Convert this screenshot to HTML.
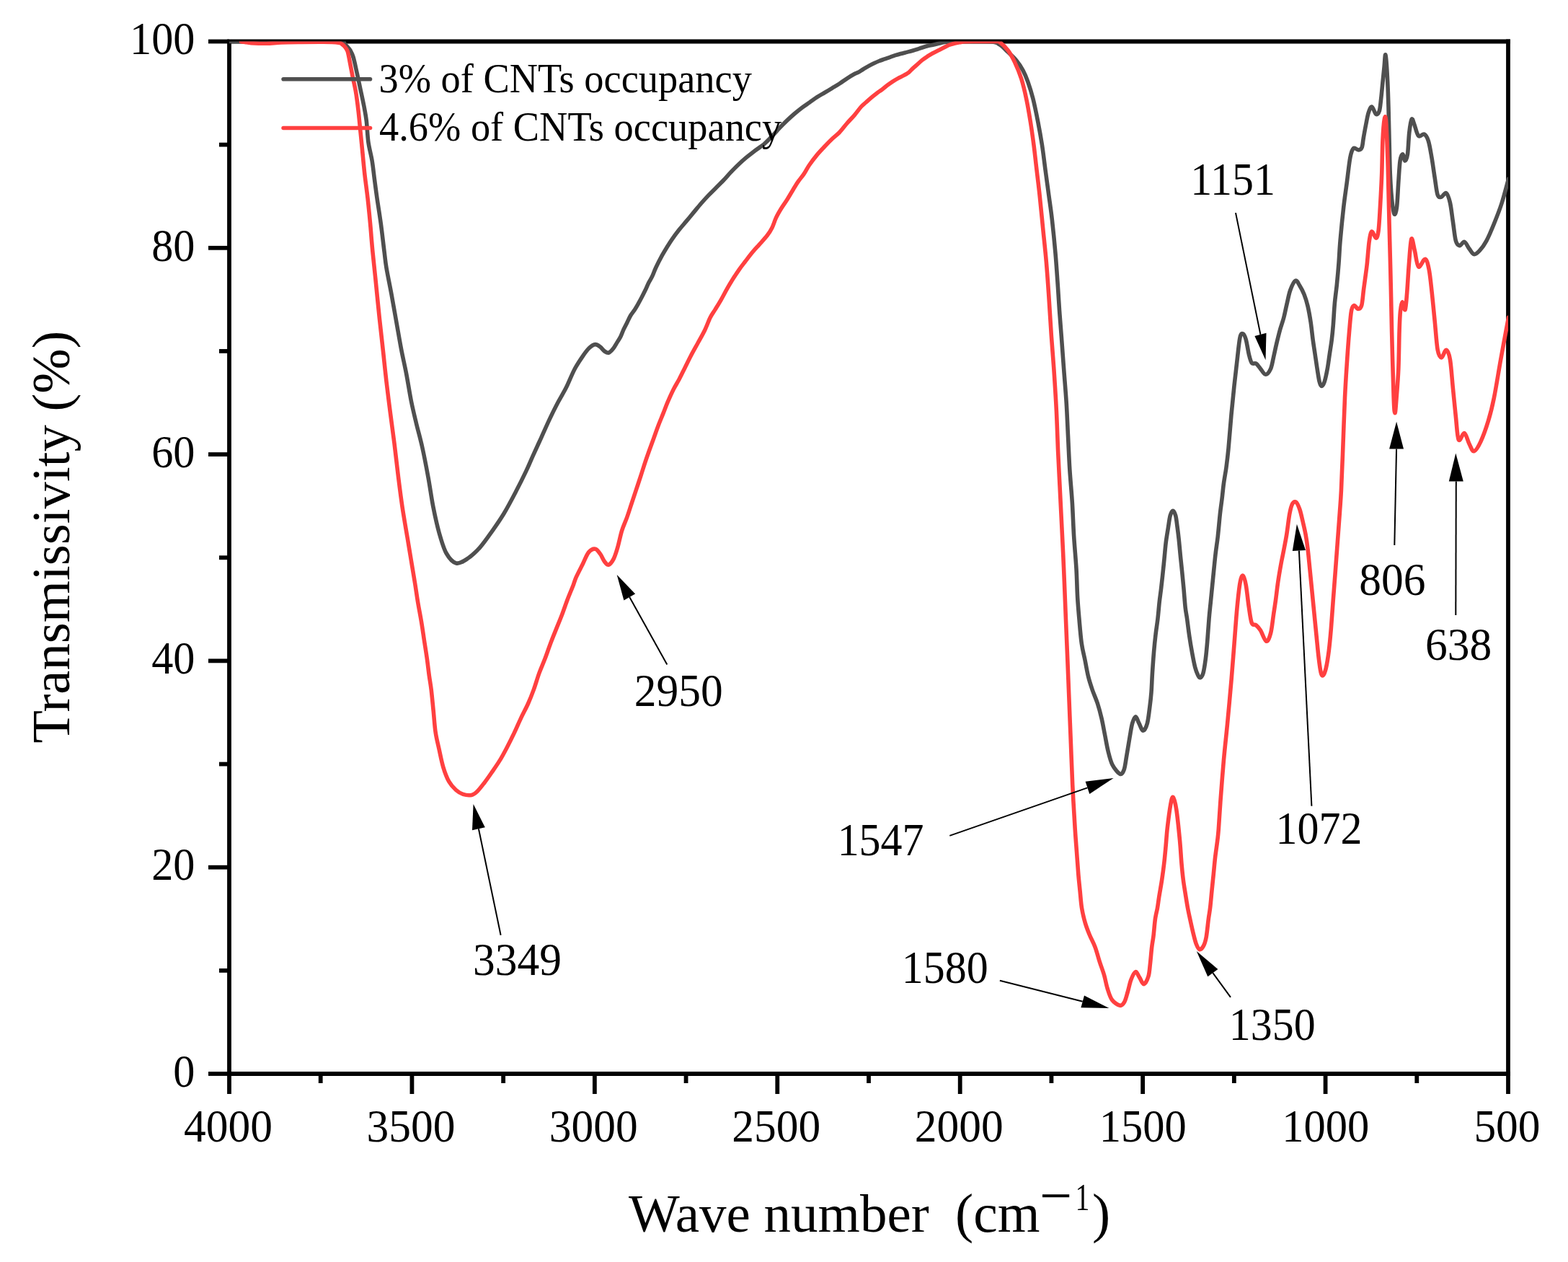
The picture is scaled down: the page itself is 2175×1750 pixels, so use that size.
<!DOCTYPE html>
<html><head><meta charset="utf-8"><title>FTIR spectra</title>
<style>html,body{margin:0;padding:0;background:#fff;}body{width:2175px;height:1750px;overflow:hidden;}svg{display:block;}text{font-family:'Liberation Serif', 'Times New Roman', serif;fill:#000;}</style>
</head><body>
<svg width="2175" height="1750" viewBox="0 0 2175 1750">
<rect width="2175" height="1750" fill="#fff"/>
<g stroke="#000" stroke-width="5.8" fill="none" stroke-linecap="butt">
<path d="M315.1,57.5H2094.9"/>
<path d="M315.1,1489H2094.9"/>
<path d="M318,57.5V1489"/>
<path d="M2092,54.6V1491.9"/>
<path d="M289,1489H318"/>
<path d="M304,1345.85H318"/>
<path d="M289,1202.7H318"/>
<path d="M304,1059.55H318"/>
<path d="M289,916.4H318"/>
<path d="M304,773.25H318"/>
<path d="M289,630.1H318"/>
<path d="M304,486.95H318"/>
<path d="M289,343.8H318"/>
<path d="M304,200.65H318"/>
<path d="M289,57.5H318"/>
<path d="M2092,1489V1517"/>
<path d="M1965.29,1489V1502"/>
<path d="M1838.57,1489V1517"/>
<path d="M1711.86,1489V1502"/>
<path d="M1585.14,1489V1517"/>
<path d="M1458.43,1489V1502"/>
<path d="M1331.71,1489V1517"/>
<path d="M1205,1489V1502"/>
<path d="M1078.29,1489V1517"/>
<path d="M951.57,1489V1502"/>
<path d="M824.86,1489V1517"/>
<path d="M698.14,1489V1502"/>
<path d="M571.43,1489V1517"/>
<path d="M444.71,1489V1502"/>
<path d="M318,1489V1517"/>
</g>
<clipPath id="pa"><rect x="318" y="57.5" width="1774" height="1431.5"/></clipPath>
<g clip-path="url(#pa)">
<path d="M314,57.5C328.33,57.5 374,57.5 400,57.5C426,57.5 457.33,57.25 470,57.5C482.67,57.75 474.17,57.92 476,59C477.83,60.08 479.33,62.17 481,64C482.67,65.83 484.48,67.43 486,70C487.52,72.57 488.55,74.08 490.1,79.4C491.65,84.72 493.7,94.7 495.3,101.9C496.9,109.1 498.12,115.12 499.7,122.6C501.28,130.08 503.37,139.3 504.8,146.8C506.23,154.3 507.28,159.23 508.3,167.6C509.32,175.97 509.6,187.78 510.9,197C512.2,206.22 514.67,214.25 516.1,222.9C517.53,231.55 518.35,240.25 519.5,248.9C520.65,257.55 521.55,264.72 523,274.8C524.45,284.88 526.5,296.87 528.2,309.4C529.9,321.93 531.9,339.65 533.2,350C534.5,360.35 534.38,361.92 536,371.5C537.62,381.08 540.6,395.05 542.9,407.5C545.2,419.95 547.5,433.3 549.8,446.2C552.1,459.1 554.4,472.92 556.7,484.9C559,496.88 561.3,506.12 563.6,518.1C565.9,530.08 568.18,545.27 570.5,556.8C572.82,568.33 574.95,576.68 577.5,587.3C580.05,597.92 583.05,608.05 585.8,620.5C588.55,632.95 591.47,648.18 594,662C596.53,675.82 598.45,690.5 601,703.4C603.55,716.3 606.3,728.8 609.3,739.4C612.3,750 615.08,760.08 619,767C622.92,773.92 627.73,779.73 632.8,780.9C637.87,782.07 643.87,777.68 649.4,774C654.93,770.32 660.47,765.03 666,758.8C671.53,752.57 677.07,744.45 682.6,736.6C688.13,728.75 693.67,720.92 699.2,711.7C704.73,702.48 710.73,690.98 715.8,681.3C720.87,671.62 725.7,661.8 729.6,653.6C733.5,645.4 735.67,639.9 739.2,632.1C742.73,624.3 746.95,615.25 750.8,606.8C754.65,598.35 758.47,589.48 762.3,581.4C766.13,573.32 769.97,565.6 773.8,558.3C777.63,551 781.45,545.28 785.3,537.6C789.15,529.92 793.05,519.5 796.9,512.2C800.75,504.9 804.95,498.78 808.4,493.8C811.85,488.82 814.72,485 817.6,482.3C820.48,479.6 823.2,477.8 825.7,477.6C828.2,477.4 830.48,479.55 832.6,481.1C834.72,482.65 836.48,485.55 838.4,486.9C840.32,488.25 842.08,489.77 844.1,489.2C846.12,488.63 848.5,485.93 850.5,483.5C852.5,481.07 854.35,477.43 856.1,474.6C857.85,471.77 859.52,469.45 861,466.5C862.48,463.55 863.52,460.12 865,456.9C866.48,453.68 868.28,450.43 869.9,447.2C871.52,443.97 872.95,440.47 874.7,437.5C876.45,434.53 878.65,432.1 880.4,429.4C882.15,426.7 883.6,424.12 885.2,421.3C886.8,418.48 888.38,415.58 890,412.5C891.62,409.42 893.28,406.17 894.9,402.8C896.52,399.43 898.08,395.53 899.7,392.3C901.32,389.07 902.92,386.95 904.6,383.4C906.28,379.85 907.63,375.63 909.8,371C911.97,366.37 915.08,360.23 917.6,355.6C920.12,350.97 922.47,347.17 924.9,343.2C927.33,339.23 929.43,335.78 932.2,331.8C934.97,327.82 938.22,323.45 941.5,319.3C944.78,315.15 948.43,311.05 951.9,306.9C955.37,302.75 958.85,298.55 962.3,294.4C965.75,290.25 969.15,285.97 972.6,282C976.05,278.03 979.53,274.23 983,270.6C986.47,266.97 989.93,263.67 993.4,260.2C996.87,256.73 1000.35,253.43 1003.8,249.8C1007.25,246.17 1010.65,242.03 1014.1,238.4C1017.55,234.77 1021.03,231.28 1024.5,228C1027.97,224.72 1031.43,221.63 1034.9,218.7C1038.37,215.77 1041.85,213 1045.3,210.4C1048.75,207.8 1053.02,205 1055.6,203.1C1058.18,201.2 1058.22,201.4 1060.8,199C1063.38,196.6 1067.65,192.32 1071.1,188.7C1074.55,185.08 1078.03,180.93 1081.5,177.3C1084.97,173.67 1088.43,170.2 1091.9,166.9C1095.37,163.6 1098.85,160.45 1102.3,157.5C1105.75,154.55 1109.15,151.78 1112.6,149.2C1116.05,146.62 1119.53,144.42 1123,142C1126.47,139.58 1129.93,136.95 1133.4,134.7C1136.87,132.45 1140.35,130.57 1143.8,128.5C1147.25,126.43 1150.65,124.38 1154.1,122.3C1157.55,120.22 1161.03,118.25 1164.5,116C1167.97,113.75 1171.43,111.05 1174.9,108.8C1178.37,106.55 1182.78,103.88 1185.3,102.5C1187.82,101.12 1187.98,101.58 1190,100.5C1192.02,99.42 1194.93,97.48 1197.4,96C1199.87,94.52 1202.32,92.97 1204.8,91.6C1207.28,90.23 1209.82,88.98 1212.3,87.8C1214.78,86.62 1217.23,85.48 1219.7,84.5C1222.17,83.52 1224.63,82.77 1227.1,81.9C1229.57,81.03 1232.03,80.17 1234.5,79.3C1236.97,78.43 1239.42,77.5 1241.9,76.7C1244.38,75.9 1246.92,75.18 1249.4,74.5C1251.88,73.82 1254.33,73.22 1256.8,72.6C1259.27,71.98 1261.73,71.48 1264.2,70.8C1266.67,70.12 1269.12,69.3 1271.6,68.5C1274.08,67.7 1276.62,66.78 1279.1,66C1281.58,65.22 1284.03,64.43 1286.5,63.8C1288.97,63.17 1291.43,62.75 1293.9,62.2C1296.37,61.65 1298.62,61.1 1301.3,60.5C1303.98,59.9 1306.88,59.1 1310,58.6C1313.12,58.1 1316.43,57.68 1320,57.5C1323.57,57.32 1322.2,57.42 1331.4,57.5C1340.6,57.58 1365.98,57.27 1375.2,58C1384.42,58.73 1382.85,59.52 1386.7,61.9C1390.55,64.28 1394.45,68.65 1398.3,72.3C1402.15,75.95 1406.35,79.58 1409.8,83.8C1413.25,88.02 1416.32,92.6 1419,97.6C1421.68,102.6 1423.58,107.27 1425.9,113.8C1428.22,120.33 1430.58,127.58 1432.9,136.8C1435.22,146.02 1437.7,158.33 1439.8,169.1C1441.9,179.87 1443.78,190.25 1445.5,201.4C1447.22,212.55 1448.55,224.47 1450.1,236C1451.65,247.53 1453.25,259.07 1454.8,270.6C1456.35,282.13 1457.87,291.75 1459.4,305.2C1460.93,318.65 1462.67,335.93 1464,351.3C1465.33,366.67 1466.48,384.28 1467.4,397.4C1468.32,410.52 1468.68,418.55 1469.5,430C1470.32,441.45 1471.27,452.4 1472.3,466.1C1473.33,479.8 1474.55,496.83 1475.7,512.2C1476.85,527.57 1478.23,542.92 1479.2,558.3C1480.17,573.68 1480.73,589.12 1481.5,604.5C1482.27,619.88 1482.83,635.23 1483.8,650.6C1484.77,665.97 1486.33,681.33 1487.3,696.7C1488.27,712.07 1488.65,727.43 1489.6,742.8C1490.55,758.17 1492.17,774.75 1493,788.9C1493.83,803.05 1493.95,816.25 1494.6,827.7C1495.25,839.15 1495.95,846.85 1496.9,857.6C1497.85,868.35 1498.95,882.58 1500.3,892.2C1501.65,901.82 1503.45,907.62 1505,915.3C1506.55,922.98 1507.88,931.38 1509.6,938.3C1511.32,945.22 1513.18,950.65 1515.3,956.8C1517.42,962.95 1520.18,968.67 1522.3,975.2C1524.42,981.73 1526.28,988.7 1528,996C1529.72,1003.3 1531.07,1011.32 1532.6,1019C1534.13,1026.68 1535.47,1035.18 1537.2,1042.1C1538.93,1049.02 1540.3,1055.32 1543,1060.5C1545.7,1065.68 1550.72,1072.03 1553.4,1073.2C1556.08,1074.37 1557.57,1071.53 1559.1,1067.5C1560.63,1063.47 1561.25,1056.68 1562.6,1049C1563.95,1041.32 1565.85,1029.08 1567.2,1021.4C1568.55,1013.72 1569.35,1007.52 1570.7,1002.9C1572.05,998.28 1573.77,993.7 1575.3,993.7C1576.83,993.7 1578.17,999.63 1579.9,1002.9C1581.63,1006.17 1583.78,1013.3 1585.7,1013.3C1587.62,1013.3 1589.87,1008.48 1591.4,1002.9C1592.93,997.32 1593.97,986.92 1594.9,979.8C1595.83,972.68 1596.4,968.08 1597,960.2C1597.6,952.32 1597.88,942.12 1598.5,932.5C1599.12,922.88 1599.95,911.25 1600.7,902.5C1601.45,893.75 1602.12,887.5 1603,880C1603.88,872.5 1605.13,865 1606,857.5C1606.87,850 1607.45,841.75 1608.2,835C1608.95,828.25 1609.75,823.25 1610.5,817C1611.25,810.75 1611.95,804.5 1612.7,797.5C1613.45,790.5 1614.25,782.5 1615,775C1615.75,767.5 1616.33,759.5 1617.2,752.5C1618.07,745.5 1619.2,739.25 1620.2,733C1621.2,726.75 1622.07,719.13 1623.2,715C1624.33,710.87 1625.75,708.2 1627,708.2C1628.25,708.2 1629.7,711.37 1630.7,715C1631.7,718.63 1632.25,724.5 1633,730C1633.75,735.5 1634.45,741 1635.2,748C1635.95,755 1636.75,764.5 1637.5,772C1638.25,779.5 1638.95,785.5 1639.7,793C1640.45,800.5 1641.25,808.75 1642,817C1642.75,825.25 1643.45,835.77 1644.2,842.5C1644.95,849.23 1645.58,850.88 1646.5,857.4C1647.42,863.92 1648.5,873.53 1649.7,881.6C1650.9,889.67 1652.37,898.53 1653.7,905.8C1655.03,913.07 1656.35,920.08 1657.7,925.2C1659.05,930.32 1660.58,934.08 1661.8,936.5C1663.02,938.92 1663.8,940.25 1665,939.7C1666.2,939.15 1667.78,937.5 1669,933.2C1670.22,928.9 1671.35,921.15 1672.3,913.9C1673.25,906.65 1673.9,899.12 1674.7,889.7C1675.5,880.28 1676.3,866.82 1677.1,857.4C1677.9,847.98 1678.57,842.6 1679.5,833.2C1680.43,823.8 1681.62,811.75 1682.7,801C1683.78,790.25 1684.92,778.12 1686,768.7C1687.08,759.28 1688.13,753.9 1689.2,744.5C1690.27,735.1 1691.43,721.05 1692.4,712.3C1693.37,703.55 1694.15,699.05 1695,692C1695.85,684.95 1696.5,677.33 1697.5,670C1698.5,662.67 1699.92,656 1701,648C1702.08,640 1702.83,634.17 1704,622C1705.17,609.83 1706.67,589.5 1708,575C1709.33,560.5 1710.67,547.5 1712,535C1713.33,522.5 1714.67,511.17 1716,500C1717.33,488.83 1718.63,474.2 1720,468C1721.37,461.8 1722.82,462.32 1724.2,462.8C1725.58,463.28 1726.95,466.18 1728.3,470.9C1729.65,475.62 1730.97,485.72 1732.3,491.1C1733.63,496.48 1734.62,501.02 1736.3,503.2C1737.98,505.38 1740.38,502.85 1742.4,504.2C1744.42,505.55 1746.22,508.78 1748.4,511.3C1750.58,513.82 1753.13,519.3 1755.5,519.3C1757.87,519.3 1760.75,515.33 1762.6,511.3C1764.45,507.27 1765.27,500.82 1766.6,495.1C1767.93,489.38 1769.08,483.38 1770.6,477C1772.12,470.62 1774.02,462.87 1775.7,456.8C1777.38,450.73 1779.18,446.32 1780.7,440.6C1782.22,434.88 1783.28,428.88 1784.8,422.5C1786.32,416.12 1787.78,407.85 1789.8,402.3C1791.82,396.75 1794.72,390.22 1796.9,389.2C1799.08,388.18 1800.88,393.02 1802.9,396.2C1804.92,399.38 1807.15,403.58 1809,408.3C1810.85,413.02 1812.48,418.1 1814,424.5C1815.52,430.9 1816.92,438.97 1818.1,446.7C1819.28,454.43 1820.1,463.5 1821.1,470.9C1822.1,478.3 1823.1,484.37 1824.1,491.1C1825.1,497.83 1826.08,504.92 1827.1,511.3C1828.12,517.68 1829.18,525.37 1830.2,529.4C1831.22,533.43 1832.03,535.5 1833.2,535.5C1834.37,535.5 1835.85,533.43 1837.2,529.4C1838.55,525.37 1840.12,517.68 1841.3,511.3C1842.48,504.92 1843.3,497.83 1844.3,491.1C1845.3,484.37 1846.47,477.63 1847.3,470.9C1848.13,464.17 1848.62,459.1 1849.3,450.7C1849.98,442.3 1850.55,429.92 1851.4,420.5C1852.25,411.08 1853.47,403.45 1854.4,394.2C1855.33,384.95 1856.22,375.1 1857,365C1857.78,354.9 1857.98,346.52 1859.1,333.6C1860.22,320.68 1862.17,300.95 1863.7,287.5C1865.23,274.05 1866.77,264.43 1868.3,252.9C1869.83,241.37 1871.37,226.17 1872.9,218.3C1874.43,210.43 1875.57,207.42 1877.5,205.7C1879.43,203.98 1882.57,208.2 1884.5,208C1886.43,207.8 1887.95,207.38 1889.1,204.5C1890.25,201.62 1890.45,196.08 1891.4,190.7C1892.35,185.32 1893.65,177.97 1894.8,172.2C1895.95,166.43 1896.95,160.13 1898.3,156.1C1899.65,152.07 1901.17,147.62 1902.9,148C1904.63,148.38 1906.97,157.43 1908.7,158.4C1910.43,159.37 1912.15,157.27 1913.3,153.8C1914.45,150.33 1914.83,144.13 1915.6,137.6C1916.37,131.07 1917.13,122.28 1917.9,114.6C1918.67,106.92 1919.6,97.93 1920.2,91.5C1920.8,85.07 1921.03,77.08 1921.5,76C1921.97,74.92 1922.45,78.57 1923,85C1923.55,91.43 1924.3,103.9 1924.8,114.6C1925.3,125.3 1925.62,135.75 1926,149.2C1926.38,162.65 1926.72,179.93 1927.1,195.3C1927.48,210.67 1927.72,227.95 1928.3,241.4C1928.88,254.85 1929.65,266.78 1930.6,276C1931.55,285.22 1932.85,294.78 1934,296.7C1935.15,298.62 1936.53,294.8 1937.5,287.5C1938.47,280.2 1939.03,263.65 1939.8,252.9C1940.57,242.15 1941.13,229.53 1942.1,223C1943.07,216.47 1944.45,213.7 1945.6,213.7C1946.75,213.7 1947.85,223 1949,223C1950.15,223 1951.53,220.23 1952.5,213.7C1953.47,207.17 1953.85,191.87 1954.8,183.8C1955.75,175.73 1957.05,167.23 1958.2,165.3C1959.35,163.37 1960.15,168.35 1961.7,172.2C1963.25,176.05 1965.2,186.08 1967.5,188.4C1969.8,190.72 1973.2,184.95 1975.5,186.1C1977.8,187.25 1979.57,189.93 1981.3,195.3C1983.03,200.67 1984.42,209.77 1985.9,218.3C1987.38,226.83 1988.82,237.82 1990.2,246.5C1991.58,255.18 1992.65,265.98 1994.2,270.4C1995.75,274.82 1997.52,273.45 1999.5,273C2001.48,272.55 2004.12,266.37 2006.1,267.7C2008.08,269.03 2009.85,274.37 2011.4,281C2012.95,287.63 2014.07,298.65 2015.4,307.5C2016.73,316.35 2017.85,328.57 2019.4,334.1C2020.95,339.63 2022.72,340.48 2024.7,340.7C2026.68,340.92 2029.1,334.73 2031.3,335.4C2033.5,336.07 2035.68,341.83 2037.9,344.7C2040.12,347.57 2042.17,352.17 2044.6,352.6C2047.03,353.03 2049.63,350.38 2052.5,347.3C2055.37,344.22 2058.48,340.28 2061.8,334.1C2065.12,327.92 2068.87,318.88 2072.4,310.2C2075.93,301.52 2079.65,292.37 2083,282C2086.35,271.63 2090.92,253.67 2092.5,248" fill="none" stroke="#4f4f4f" stroke-width="5.6" stroke-linejoin="round" stroke-linecap="round"/>
<path d="M334.5,57.8C335.42,57.9 337.68,58.1 340,58.4C342.32,58.7 343.52,59.28 348.4,59.6C353.28,59.92 362.37,60.4 369.3,60.3C376.23,60.2 382.38,59.3 390,59C397.62,58.7 405.23,58.62 415,58.5C424.77,58.38 439.53,58.18 448.6,58.3C457.67,58.42 465.17,58.75 469.4,59.2C473.63,59.65 472.6,60.17 474,61C475.4,61.83 476.47,62.55 477.8,64.2C479.13,65.85 480.8,67.5 482,70.9C483.2,74.3 483.78,78.58 485,84.6C486.22,90.62 487.87,99.8 489.3,107C490.73,114.2 492.3,120 493.6,127.8C494.9,135.6 496.08,145.15 497.1,153.8C498.12,162.45 498.83,171.07 499.7,179.7C500.57,188.33 501.3,195.52 502.3,205.6C503.3,215.68 504.42,228.67 505.7,240.2C506.98,251.73 508.7,263.27 510,274.8C511.3,286.33 512.63,300.2 513.5,309.4C514.37,318.6 514.62,323.23 515.2,330C515.78,336.77 516.08,340.78 517,350C517.92,359.22 519.15,370.18 520.7,385.3C522.25,400.42 524.45,423.18 526.3,440.7C528.15,458.22 530.18,475.65 531.8,490.4C533.42,505.15 534.38,515.37 536,529.2C537.62,543.03 539.67,559.12 541.5,573.4C543.33,587.68 545.15,600.13 547,614.9C548.85,629.67 550.75,647.25 552.6,662C554.45,676.75 556.03,689.58 558.1,703.4C560.17,717.22 562.93,732.45 565,744.9C567.07,757.35 568.72,767.35 570.5,778.1C572.28,788.85 574.18,799.93 575.7,809.4C577.22,818.87 578.13,826.08 579.6,834.9C581.07,843.72 583.03,853.48 584.5,862.3C585.97,871.12 587.1,879.3 588.4,887.8C589.7,896.3 591.15,905.13 592.3,913.3C593.45,921.47 594.32,929.62 595.3,936.8C596.28,943.98 597.22,948.23 598.2,956.4C599.18,964.57 600.22,976 601.2,985.8C602.18,995.6 602.8,1006.38 604.1,1015.2C605.4,1024.02 607.2,1030.55 609,1038.7C610.8,1046.85 612.62,1056.6 614.9,1064.1C617.18,1071.6 619.77,1078.47 622.7,1083.7C625.63,1088.93 629.23,1092.55 632.5,1095.5C635.77,1098.45 638.7,1100.25 642.3,1101.4C645.9,1102.55 650.83,1103.05 654.1,1102.4C657.37,1101.75 658.97,1100.28 661.9,1097.5C664.83,1094.72 668.43,1089.95 671.7,1085.7C674.97,1081.45 677.9,1077.22 681.5,1072C685.1,1066.78 689.7,1060.28 693.3,1054.4C696.9,1048.52 699.83,1042.92 703.1,1036.7C706.37,1030.48 709.63,1023.95 712.9,1017.1C716.17,1010.25 719.45,1002.45 722.7,995.6C725.95,988.75 729.47,982.53 732.4,976C735.33,969.47 737.68,963.58 740.3,956.4C742.92,949.22 745.48,940.08 748.1,932.9C750.72,925.72 753.38,920.17 756,913.3C758.62,906.43 761.2,898.57 763.8,891.7C766.4,884.83 768.98,878.63 771.6,872.1C774.22,865.57 776.88,859.35 779.5,852.5C782.12,845.65 784.68,837.85 787.3,831C789.92,824.15 793.22,816.5 795.2,811.4C797.18,806.3 797,805.3 799.2,800.4C801.4,795.5 805.52,787.75 808.4,782C811.28,776.25 813.62,769.37 816.5,765.9C819.38,762.43 823.02,760.82 825.7,761.2C828.38,761.58 830.48,765.32 832.6,768.2C834.72,771.08 836.48,776 838.4,778.5C840.32,781 841.98,783.77 844.1,783.2C846.22,782.63 848.98,779.15 851.1,775.1C853.22,771.05 854.88,765.43 856.8,758.9C858.72,752.37 860.45,742.82 862.6,735.9C864.75,728.98 867.45,723.7 869.7,717.4C871.95,711.1 873.95,704.55 876.1,698.1C878.25,691.65 880.45,685.15 882.6,678.7C884.75,672.25 886.98,665.58 889,659.4C891.02,653.22 892.82,647.25 894.7,641.6C896.58,635.95 898.28,631.15 900.3,625.5C902.32,619.85 904.65,613.62 906.8,607.7C908.95,601.78 911.05,595.63 913.2,590C915.35,584.37 917.55,579.28 919.7,573.9C921.85,568.52 923.68,563.35 926.1,557.7C928.52,552.05 931.5,545.37 934.2,540C936.9,534.63 939.62,530.6 942.3,525.5C944.98,520.4 947.62,514.78 950.3,509.4C952.98,504.02 955.43,498.85 958.4,493.2C961.37,487.55 964.88,481.42 968.1,475.5C971.32,469.58 974.85,463.58 977.7,457.7C980.55,451.82 982.8,444.97 985.2,440.2C987.6,435.43 989.57,433.25 992.1,429.1C994.63,424.95 997.63,420.13 1000.4,415.3C1003.17,410.47 1005.93,404.93 1008.7,400.1C1011.47,395.27 1014.23,390.68 1017,386.3C1019.77,381.92 1022.53,377.72 1025.3,373.8C1028.07,369.88 1030.6,366.72 1033.6,362.8C1036.6,358.88 1040.07,354.22 1043.3,350.3C1046.53,346.38 1049.55,343.22 1053,339.3C1056.45,335.38 1061,330.73 1064,326.8C1067,322.87 1068.92,319.85 1071,315.7C1073.08,311.55 1074.43,306.27 1076.5,301.9C1078.57,297.53 1080.87,293.65 1083.4,289.5C1085.93,285.35 1088.93,281.38 1091.7,277C1094.47,272.62 1097.47,267.35 1100,263.2C1102.53,259.05 1104.37,255.78 1106.9,252.1C1109.43,248.42 1112.6,244.95 1115.2,241.1C1117.8,237.25 1119.47,233.42 1122.5,229C1125.53,224.58 1129.85,218.9 1133.4,214.6C1136.95,210.3 1140.35,206.83 1143.8,203.2C1147.25,199.57 1150.65,196.08 1154.1,192.8C1157.55,189.52 1161.03,187.13 1164.5,183.5C1167.97,179.87 1171.43,174.98 1174.9,171C1178.37,167.02 1182.03,163.43 1185.3,159.6C1188.57,155.77 1191.87,150.93 1194.5,148C1197.13,145.07 1198.75,144.12 1201.1,142C1203.45,139.88 1206.12,137.4 1208.6,135.3C1211.08,133.2 1213.53,131.25 1216,129.4C1218.47,127.55 1220.93,126.05 1223.4,124.2C1225.87,122.35 1228.33,120.15 1230.8,118.3C1233.27,116.45 1235.72,114.72 1238.2,113.1C1240.68,111.48 1243.22,109.97 1245.7,108.6C1248.18,107.23 1250.63,106.25 1253.1,104.9C1255.57,103.55 1258.65,101.85 1260.5,100.5C1262.35,99.15 1262.35,98.53 1264.2,96.8C1266.05,95.07 1269.12,92.33 1271.6,90.1C1274.08,87.87 1276.62,85.38 1279.1,83.4C1281.58,81.42 1284.03,79.82 1286.5,78.2C1288.97,76.58 1291.43,75.07 1293.9,73.7C1296.37,72.33 1298.83,71.23 1301.3,70C1303.77,68.77 1306.22,67.55 1308.7,66.3C1311.18,65.05 1313.72,63.5 1316.2,62.5C1318.68,61.5 1321.13,60.92 1323.6,60.3C1326.07,59.68 1328.53,59.22 1331,58.8C1333.47,58.38 1335.23,58.02 1338.4,57.8C1341.57,57.58 1343.07,57.55 1350,57.5C1356.93,57.45 1373.88,57.33 1380,57.5C1386.12,57.67 1383.65,56.42 1386.7,58.5C1389.75,60.58 1394.83,65.4 1398.3,70C1401.77,74.6 1404.43,79.57 1407.5,86.1C1410.57,92.63 1414.02,100.75 1416.7,109.2C1419.38,117.65 1421.48,126.82 1423.6,136.8C1425.72,146.78 1427.67,158.33 1429.4,169.1C1431.13,179.87 1432.65,191.02 1434,201.4C1435.35,211.78 1436.15,219.87 1437.5,231.4C1438.85,242.93 1440.57,256.38 1442.1,270.6C1443.63,284.82 1445.17,301.33 1446.7,316.7C1448.23,332.07 1449.95,347.25 1451.3,362.8C1452.65,378.35 1453.62,392.78 1454.8,410C1455.98,427.22 1457.22,449.07 1458.4,466.1C1459.58,483.13 1460.73,494.9 1461.9,512.2C1463.07,529.5 1464.43,550.68 1465.4,569.9C1466.37,589.12 1466.93,610.22 1467.7,627.5C1468.47,644.78 1469.23,658.23 1470,673.6C1470.77,688.97 1471.53,704.32 1472.3,719.7C1473.07,735.08 1473.9,750.85 1474.6,765.9C1475.3,780.95 1475.87,794.72 1476.5,810C1477.13,825.28 1477.68,840.05 1478.4,857.6C1479.12,875.15 1480.02,896.08 1480.8,915.3C1481.58,934.52 1482.33,953.68 1483.1,972.9C1483.87,992.12 1484.63,1011.38 1485.4,1030.6C1486.17,1049.82 1486.75,1068.63 1487.7,1088.2C1488.65,1107.77 1490.13,1132.52 1491.1,1148C1492.07,1163.48 1492.72,1170.4 1493.5,1181.1C1494.28,1191.8 1495.03,1203.12 1495.8,1212.2C1496.57,1221.28 1497.32,1227.82 1498.1,1235.6C1498.88,1243.38 1499.33,1251.65 1500.5,1258.9C1501.67,1266.15 1503.3,1272.87 1505.1,1279.1C1506.9,1285.33 1508.97,1290.58 1511.3,1296.3C1513.63,1302.02 1516.77,1307.18 1519.1,1313.4C1521.43,1319.62 1523.22,1327.12 1525.3,1333.6C1527.38,1340.08 1529.78,1346.08 1531.6,1352.3C1533.42,1358.52 1534.38,1365.2 1536.2,1370.9C1538.02,1376.6 1539.63,1382.6 1542.5,1386.5C1545.37,1390.4 1550.55,1393.78 1553.4,1394.3C1556.25,1394.82 1557.8,1392.72 1559.6,1389.6C1561.4,1386.48 1562.65,1380.78 1564.2,1375.6C1565.75,1370.42 1567.08,1363.17 1568.9,1358.5C1570.72,1353.83 1573.15,1348.12 1575.1,1347.6C1577.05,1347.08 1578.65,1352.55 1580.6,1355.4C1582.55,1358.25 1584.73,1364.97 1586.8,1364.7C1588.87,1364.43 1591.57,1358.47 1593,1353.8C1594.43,1349.13 1594.62,1343.43 1595.4,1336.7C1596.18,1329.97 1596.93,1319.88 1597.7,1313.4C1598.47,1306.92 1599.22,1304.28 1600,1297.8C1600.78,1291.32 1601.48,1280.98 1602.4,1274.5C1603.32,1268.02 1604.6,1264.08 1605.5,1258.9C1606.4,1253.72 1606.77,1249.88 1607.8,1243.4C1608.83,1236.92 1610.53,1227.78 1611.7,1220C1612.87,1212.22 1613.9,1204.48 1614.8,1196.7C1615.7,1188.92 1616.35,1181.42 1617.1,1173.3C1617.85,1165.18 1618.2,1157.57 1619.3,1148C1620.4,1138.43 1622.38,1122.98 1623.7,1115.9C1625.02,1108.82 1625.85,1104.35 1627.2,1105.5C1628.55,1106.65 1630.25,1112.88 1631.8,1122.8C1633.35,1132.72 1635.32,1152.68 1636.5,1165C1637.68,1177.32 1638.1,1187.53 1638.9,1196.7C1639.7,1205.87 1640.38,1212.75 1641.3,1220C1642.22,1227.25 1643.37,1233.72 1644.4,1240.2C1645.43,1246.68 1646.33,1252.67 1647.5,1258.9C1648.67,1265.13 1650.1,1271.63 1651.4,1277.6C1652.7,1283.57 1654,1289.52 1655.3,1294.7C1656.6,1299.88 1657.78,1305.07 1659.2,1308.7C1660.62,1312.33 1662.12,1315.98 1663.8,1316.5C1665.48,1317.02 1667.73,1314.65 1669.3,1311.8C1670.87,1308.95 1672.03,1305.62 1673.2,1299.4C1674.37,1293.18 1675.4,1281.25 1676.3,1274.5C1677.2,1267.75 1677.83,1265.38 1678.6,1258.9C1679.37,1252.42 1680.12,1243.38 1680.9,1235.6C1681.68,1227.82 1682.52,1219.98 1683.3,1212.2C1684.08,1204.42 1684.7,1196.67 1685.6,1188.9C1686.5,1181.13 1687.92,1172.08 1688.7,1165.6C1689.48,1159.12 1689.6,1159.05 1690.3,1150C1691,1140.95 1691.7,1127.37 1692.9,1111.3C1694.1,1095.23 1695.9,1071.48 1697.5,1053.6C1699.1,1035.72 1700.73,1022.5 1702.5,1004C1704.27,985.5 1706.5,961.23 1708.1,942.6C1709.7,923.97 1710.77,909.02 1712.1,892.2C1713.43,875.38 1714.75,855.83 1716.1,841.7C1717.45,827.57 1718.85,814.63 1720.2,807.4C1721.55,800.17 1722.85,797.62 1724.2,798.3C1725.55,798.98 1726.95,804.27 1728.3,811.5C1729.65,818.73 1730.97,832.97 1732.3,841.7C1733.63,850.43 1734.62,859.68 1736.3,863.9C1737.98,868.12 1740.38,865.32 1742.4,867C1744.42,868.68 1746.05,870.3 1748.4,874C1750.75,877.7 1754.13,888.52 1756.5,889.2C1758.87,889.88 1760.92,884.33 1762.6,878.1C1764.28,871.87 1765.43,859.55 1766.6,851.8C1767.77,844.05 1768.58,839 1769.6,831.6C1770.62,824.2 1771.52,815.47 1772.7,807.4C1773.88,799.33 1775.37,790.6 1776.7,783.2C1778.03,775.8 1779.35,770.07 1780.7,763C1782.05,755.93 1783.45,749.2 1784.8,740.8C1786.15,732.4 1787.47,719.67 1788.8,712.6C1790.13,705.53 1791.28,701.1 1792.8,698.4C1794.32,695.7 1796.22,695.05 1797.9,696.4C1799.58,697.75 1801.38,702.12 1802.9,706.5C1804.42,710.88 1805.65,716.98 1807,722.7C1808.35,728.42 1809.83,734.42 1811,740.8C1812.17,747.18 1812.98,752.58 1814,761C1815.02,769.42 1816.08,781.22 1817.1,791.3C1818.12,801.38 1819.1,811.42 1820.1,821.5C1821.1,831.58 1822.1,841.7 1823.1,851.8C1824.1,861.9 1825.08,872 1826.1,882.1C1827.12,892.2 1828.18,904 1829.2,912.4C1830.22,920.8 1831.2,928.47 1832.2,932.5C1833.2,936.53 1834.02,937.6 1835.2,936.6C1836.38,935.6 1837.95,932.22 1839.3,926.5C1840.65,920.78 1842.13,911.38 1843.3,902.3C1844.47,893.22 1845.3,883.78 1846.3,872C1847.3,860.22 1848.28,845.05 1849.3,831.6C1850.32,818.15 1851.38,804.75 1852.4,791.3C1853.42,777.85 1854.4,764.37 1855.4,750.9C1856.4,737.43 1857.57,722.27 1858.4,710.5C1859.23,698.73 1859.72,693.72 1860.4,680.3C1861.08,666.88 1861.65,651.45 1862.5,630C1863.35,608.55 1864.5,573.07 1865.5,551.6C1866.5,530.13 1867.5,516.33 1868.5,501.2C1869.5,486.07 1870.48,472.58 1871.5,460.8C1872.52,449.02 1873.42,436.72 1874.6,430.5C1875.78,424.28 1877.08,423.83 1878.6,423.5C1880.12,423.17 1882.02,428.5 1883.7,428.5C1885.38,428.5 1887.37,428.2 1888.7,423.5C1890.03,418.8 1890.52,409.22 1891.7,400.3C1892.88,391.38 1894.9,377.27 1895.8,370C1896.7,362.73 1896.5,362.77 1897.1,356.7C1897.7,350.63 1898.43,339.55 1899.4,333.6C1900.37,327.65 1901.35,321.57 1902.9,321C1904.45,320.43 1907.17,330.4 1908.7,330.2C1910.23,330 1911.15,326.92 1912.1,319.8C1913.05,312.68 1913.63,300.57 1914.4,287.5C1915.17,274.43 1916.12,256.77 1916.7,241.4C1917.28,226.03 1917.32,207.87 1917.9,195.3C1918.48,182.73 1919.43,170.62 1920.2,166C1920.97,161.38 1921.73,158.88 1922.5,167.6C1923.27,176.32 1924.22,202.15 1924.8,218.3C1925.38,234.45 1925.62,249.12 1926,264.5C1926.38,279.88 1926.72,295.23 1927.1,310.6C1927.48,325.97 1927.92,341.33 1928.3,356.7C1928.68,372.07 1929.02,385.58 1929.4,402.8C1929.78,420.02 1929.97,435.2 1930.6,460C1931.23,484.8 1932.47,532.8 1933.2,551.6C1933.93,570.4 1934.35,572.8 1935,572.8C1935.65,572.8 1936.3,561.77 1937.1,551.6C1937.9,541.43 1939.13,527.28 1939.8,511.8C1940.47,496.32 1940.67,471.97 1941.1,458.7C1941.53,445.43 1941.73,438.83 1942.4,432.2C1943.07,425.57 1943.98,419.35 1945.1,418.9C1946.22,418.45 1948,431.7 1949.1,429.5C1950.2,427.3 1950.82,416.3 1951.7,405.7C1952.58,395.1 1953.38,378.28 1954.4,365.9C1955.42,353.52 1956.48,334.5 1957.8,331.4C1959.12,328.3 1960.67,340.88 1962.3,347.3C1963.93,353.72 1965.17,367.9 1967.6,369.9C1970.03,371.9 1974.47,358.65 1976.9,359.3C1979.33,359.95 1980.65,366.07 1982.2,373.8C1983.75,381.53 1984.87,393.75 1986.2,405.7C1987.53,417.65 1988.87,432.23 1990.2,445.5C1991.53,458.77 1992.65,476.9 1994.2,485.3C1995.75,493.7 1997.52,495.9 1999.5,495.9C2001.48,495.9 2004.12,484.87 2006.1,485.3C2008.08,485.73 2009.85,489.67 2011.4,498.5C2012.95,507.33 2014.07,525.03 2015.4,538.3C2016.73,551.57 2018.08,566.17 2019.4,578.1C2020.72,590.03 2021.32,606.15 2023.3,609.9C2025.28,613.65 2028.87,599.72 2031.3,600.6C2033.73,601.48 2035.68,611 2037.9,615.2C2040.12,619.4 2041.95,626.23 2044.6,625.8C2047.25,625.37 2050.48,619.67 2053.8,612.6C2057.12,605.53 2061.4,593.57 2064.5,583.4C2067.6,573.23 2069.53,565.75 2072.4,551.6C2075.27,537.45 2078.35,517.1 2081.7,498.5C2085.05,479.9 2090.7,449.75 2092.5,440" fill="none" stroke="#ff4040" stroke-width="5.6" stroke-linejoin="round" stroke-linecap="round"/>
</g>
<text transform="translate(270.5,1506.7) scale(1,1.055)" font-size="60.3" text-anchor="end">0</text>
<text transform="translate(270.5,1220.4) scale(1,1.055)" font-size="60.3" text-anchor="end">20</text>
<text transform="translate(270.5,934.1) scale(1,1.055)" font-size="60.3" text-anchor="end">40</text>
<text transform="translate(270.5,647.8) scale(1,1.055)" font-size="60.3" text-anchor="end">60</text>
<text transform="translate(270.5,361.5) scale(1,1.055)" font-size="60.3" text-anchor="end">80</text>
<text transform="translate(270.5,75.2) scale(1,1.055)" font-size="60.3" text-anchor="end">100</text>
<text transform="translate(2090.5,1582.5) scale(1,1.035)" font-size="61.5" text-anchor="middle">500</text>
<text transform="translate(1838.77,1582.5) scale(0.985,1.035)" font-size="61.5" text-anchor="middle">1000</text>
<text transform="translate(1585.34,1582.5) scale(0.985,1.035)" font-size="61.5" text-anchor="middle">1500</text>
<text transform="translate(1330.21,1582.5) scale(1,1.035)" font-size="61.5" text-anchor="middle">2000</text>
<text transform="translate(1076.79,1582.5) scale(1,1.035)" font-size="61.5" text-anchor="middle">2500</text>
<text transform="translate(823.36,1582.5) scale(1,1.035)" font-size="61.5" text-anchor="middle">3000</text>
<text transform="translate(569.93,1582.5) scale(1,1.035)" font-size="61.5" text-anchor="middle">3500</text>
<text transform="translate(316.5,1582.5) scale(1,1.035)" font-size="61.5" text-anchor="middle">4000</text>
<text transform="translate(96,744.6) rotate(-90)" font-size="74.7" text-anchor="middle">Transmissivity (%)</text>
<text x="872" y="1708" font-size="75">Wave number</text>
<text x="1325" y="1708" font-size="75.5">(cm</text>
<text x="1442" y="1685" font-size="80">&#8722;</text>
<text transform="translate(1491.5,1677.5) scale(0.76,1)" font-size="52.3">1</text>
<text x="1515" y="1708" font-size="75.5">)</text>
<path d="M393.1,109.8H513.5" stroke="#4f4f4f" stroke-width="5.6" stroke-linecap="round"/>
<path d="M393.1,177.5H513.5" stroke="#ff4040" stroke-width="5.6" stroke-linecap="round"/>
<text transform="translate(525.5,127.6) scale(1,1.035)" font-size="54.4" text-anchor="start">3% of CNTs occupancy</text>
<text transform="translate(526,194.5) scale(1,1.035)" font-size="54.4" text-anchor="start">4.6% of CNTs occupancy</text>
<path d="M663.9,1149.3L694.6,1296.7" stroke="#000" stroke-width="2"/>
<path d="M656.6,1115L655,1151.3L672.8,1147.3Z" fill="#000"/>
<path d="M873.25,828.1L925.3,921.6" stroke="#000" stroke-width="2"/>
<path d="M855.7,796.9L865.4,832.6L881.1,823.6Z" fill="#000"/>
<path d="M1508.45,1092.35L1317.3,1158.9" stroke="#000" stroke-width="2"/>
<path d="M1544.6,1079L1505.6,1083.8L1511.3,1100.9Z" fill="#000"/>
<path d="M1501.7,1388.8L1386.9,1359.7" stroke="#000" stroke-width="2"/>
<path d="M1538.4,1398L1499.4,1397.2L1504,1380.4Z" fill="#000"/>
<path d="M1682.35,1349.15L1707,1382.8" stroke="#000" stroke-width="2"/>
<path d="M1659.8,1318.9L1675.3,1354.2L1689.4,1344.1Z" fill="#000"/>
<path d="M1801.9,763.5L1819.4,1117.8" stroke="#000" stroke-width="2"/>
<path d="M1798.9,726.7L1792.8,764L1811,763Z" fill="#000"/>
<path d="M1748.45,463.85L1714,295.1" stroke="#000" stroke-width="2"/>
<path d="M1755.5,499.2L1740.4,465.9L1756.5,461.8Z" fill="#000"/>
<path d="M1937.05,622.4L1934.3,756" stroke="#000" stroke-width="2"/>
<path d="M1937.1,584.7L1927.1,622.4L1947,622.4Z" fill="#000"/>
<path d="M2019.8,667.5L2019.3,853" stroke="#000" stroke-width="2"/>
<path d="M2019.3,628.5L2009.8,667.5L2029.8,667.5Z" fill="#000"/>
<text transform="translate(717.55,1351.5) scale(1,1.035)" font-size="61.5" text-anchor="middle">3349</text>
<text transform="translate(941.3,979) scale(1,1.035)" font-size="61.5" text-anchor="middle">2950</text>
<text transform="translate(1221.6,1186.4) scale(0.975,1.035)" font-size="61.5" text-anchor="middle">1547</text>
<text transform="translate(1310.65,1362.8) scale(0.975,1.035)" font-size="61.5" text-anchor="middle">1580</text>
<text transform="translate(1764.65,1441.9) scale(0.975,1.035)" font-size="61.5" text-anchor="middle">1350</text>
<text transform="translate(1829.45,1170.2) scale(0.975,1.035)" font-size="61.5" text-anchor="middle">1072</text>
<text transform="translate(1710.1,269.7) scale(0.975,1.035)" font-size="61.5" text-anchor="middle">1151</text>
<text transform="translate(1931.35,824.5) scale(1,1.035)" font-size="61.5" text-anchor="middle">806</text>
<text transform="translate(2023.1,914.8) scale(1,1.035)" font-size="61.5" text-anchor="middle">638</text>
</svg></body></html>
